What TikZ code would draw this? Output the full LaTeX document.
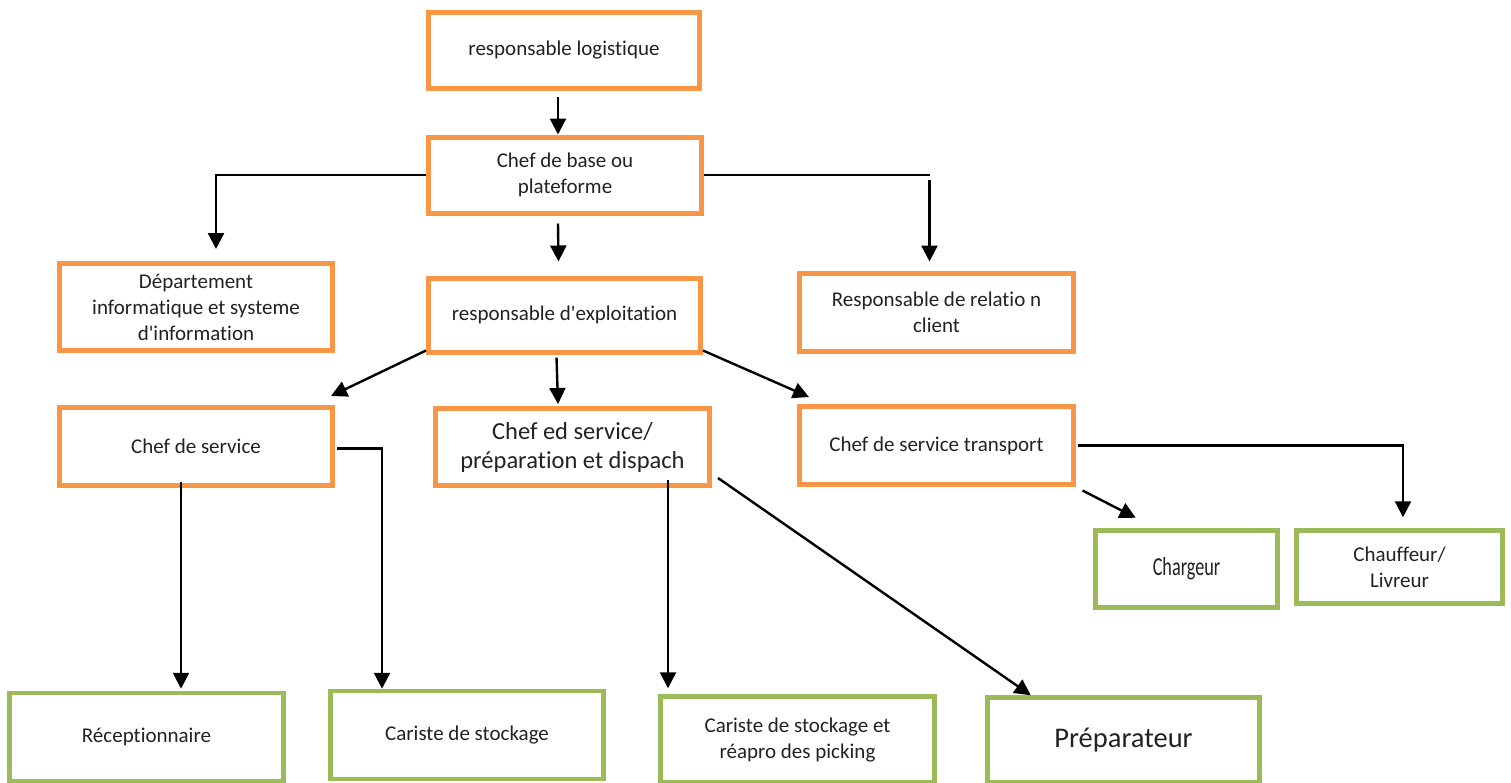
\documentclass[tikz,border=0pt]{standalone}
\usepackage{fontspec}
\setmainfont{Carlito}[Ligatures=NoCommon]
\usetikzlibrary{arrows.meta}
\definecolor{boxorange}{HTML}{F79646}
\definecolor{boxgreen}{HTML}{9BBB59}
\definecolor{txt}{HTML}{222222}
\tikzset{
  obox/.style={draw=boxorange, line width=5pt, fill=white, align=center, text=txt, inner sep=2pt,
    font=\fontsize{21}{26}\selectfont},
  gbox/.style={draw=boxgreen, line width=4.5pt, fill=white, align=center, text=txt, inner sep=2pt,
    font=\fontsize{21}{26}\selectfont},
  conn/.style={line width=2.4pt, draw=black},
  arr/.style={conn, -{Triangle[length=16pt,width=16pt]}}
}
\begin{document}
\begin{tikzpicture}[x=1pt,y=-1pt]
\useasboundingbox (0,0) rectangle (1511,782);
% orange boxes
\node[obox, minimum width=271pt, minimum height=76pt] (rl) at (564,50) {responsable logistique};
\node[obox, minimum width=273pt, minimum height=76pt] (cdb) at (565,175) {Chef de base ou\\plateforme};
\node[obox, minimum width=273pt, minimum height=87pt] (dep) at (196,307) {Département\\informatique et systeme\\d\textquotesingle information};
\node[obox, minimum width=272pt, minimum height=74pt] (rexp) at (564.5,315) {responsable d\textquotesingle exploitation};
\node[obox, minimum width=274pt, minimum height=78pt] (rrc) at (936.5,312.5) {Responsable de relatio n\\client};
\node[obox, minimum width=273pt, minimum height=78pt] (cds) at (196,446.5) {Chef de service};
\node[obox, minimum width=274pt, minimum height=77pt, font=\fontsize{24.5}{29}\selectfont] (ceds) at (572.5,447) {Chef ed service/\\préparation et dispach};
\node[obox, minimum width=274pt, minimum height=78pt] (cdst) at (936.5,445.5) {Chef de service transport};
% green boxes
\node[gbox, minimum width=182pt, minimum height=77pt] (charg) at (1186.5,569) {\scalebox{0.7}[1]{\fontsize{26}{30}\selectfont Chargeur}};
\node[gbox, minimum width=206pt, minimum height=73pt] (chauf) at (1399.5,567) {Chauffeur/\\Livreur};
\node[gbox, minimum width=274pt, minimum height=88pt] (recep) at (146.5,737) {Réceptionnaire};
\node[gbox, minimum width=273pt, minimum height=88pt] (car) at (467,735) {Cariste de stockage};
\node[gbox, minimum width=274pt, minimum height=86pt] (carr) at (797.5,739.5) {Cariste de stockage et\\réapro des picking};
\node[gbox, minimum width=272pt, minimum height=85pt, font=\fontsize{28.5}{34}\selectfont] (prep) at (1123.5,740) {Préparateur};
% connectors
\draw[arr] ([xshift=-6pt,yshift=-6pt]rl.south) -- ([xshift=-7pt]cdb.north);
\draw[arr] ([xshift=-7pt,yshift=-8pt]cdb.south) -- ([xshift=-6pt,yshift=14pt]rexp.north);
\draw[arr] (cdb.west) -| ([xshift=20pt,yshift=12pt]dep.north);
\coordinate (k1) at ([xshift=-7pt]rrc.north |- cdb.east);
\draw[conn] (cdb.east) -- (k1);
\draw[arr] ([yshift=-5pt]k1) -- ([xshift=-7pt,yshift=9.5pt]rrc.north);
\draw[arr] ([yshift=4pt]rexp.south west) -- ([xshift=-4pt,yshift=9pt]cds.north east);
\draw[arr] ([xshift=-8pt,yshift=-3pt]rexp.south) -- ([xshift=-14.5pt,yshift=2pt]ceds.north);
\draw[arr] ([yshift=4pt]rexp.south east) -- ([xshift=12pt,yshift=7pt]cdst.north west);
\coordinate (s1) at ([xshift=-15pt,yshift=6pt]cds.south);
\coordinate (e1) at ([yshift=2pt]recep.north);
\draw[arr] (s1) -- (s1 |- e1);
\draw[arr] ([xshift=2pt,yshift=-2pt]cds.east) -| ([xshift=-85pt]car.north);
\coordinate (s2) at ([xshift=95.5pt,yshift=8pt]ceds.south);
\coordinate (e2) at ([yshift=6pt]carr.north);
\draw[arr] (s2) -- (s2 |- e2);
\draw[arr] ([xshift=6pt,yshift=10pt]ceds.south east) -- ([xshift=45.5pt]prep.north west);
\draw[arr] ([xshift=6.5pt,yshift=-3.5pt]cdst.south east) -- ([xshift=42.5pt,yshift=10.5pt]charg.north west);
\draw[arr] ([xshift=2pt]cdst.east) -| ([xshift=3.5pt,yshift=11pt]chauf.north);
\end{tikzpicture}
\end{document}
